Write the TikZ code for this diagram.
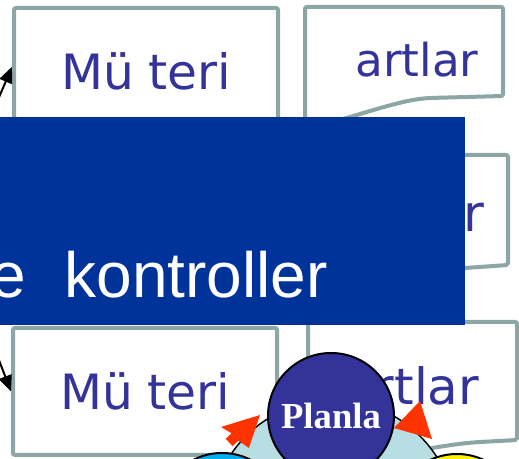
\documentclass[tikz,border=0pt]{standalone}
\usepackage{fontspec}
\setmainfont{Liberation Sans}
\newfontfamily\boxfont{DejaVu Sans}
\newfontfamily\planfont{Liberation Serif}
\usetikzlibrary{arrows.meta}
\definecolor{boxgray}{RGB}{140,166,166}
\definecolor{textblue}{RGB}{51,51,153}
\definecolor{bannerblue}{RGB}{0,51,153}
\definecolor{ringblue}{RGB}{183,222,226}
\definecolor{headred}{RGB}{255,51,0}
\tikzset{
  mbox/.style={draw=boxgray, line width=3pt, fill=white, rounded corners=1.5pt,
    minimum width=198pt, minimum height=95.25pt, inner sep=0pt, text=textblue,
    font=\boxfont\fontsize{36.5}{40}\selectfont},
  sheet/.style={draw=boxgray, line width=3pt, fill=white, rounded corners=1.5pt},
  sheettext/.style={inner sep=0pt, anchor=base west, text=textblue,
    font=\boxfont\fontsize{#1}{#1}\selectfont},
  inarrow/.style={draw, line width=1.5pt, -{Triangle[length=12pt,width=10pt]}},
  disc/.style={circle, draw=black, line width=1.5pt, inner sep=0pt, minimum size=94.5pt},
  cyclehead/.style={fill=headred}
}
\begin{document}
\begin{tikzpicture}[x=0.75pt, y=-0.75pt]
\useasboundingbox (0,0) rectangle (519,459);

% customer boxes
\node[mbox] (mustTop) at (146,71.5) {Mü\hspace{0.3em}teri};
\node[mbox] (mustBot) at (145,391.5) {Mü\hspace{0.3em}teri};
\coordinate (inTop) at (-3,102);
\coordinate (inBot) at (-3,355);
\draw[inarrow] (inTop) -- (mustTop.178);
\draw[inarrow] (inBot) -- (mustBot.west);

% sheets
\draw[sheet] (305,130) -- (305,7) -- (503,7) -- (503,96) -- (430,98)
  .. controls (400,100) and (370,112) .. (305,130);
\node[sheettext=34] (artTop) at (355,77) {artlar};
\draw[sheet] (308,290) -- (308,155) -- (508,155) -- (508,265) -- (465,268)
  .. controls (420,272) and (370,282) .. (308,290);
\node[sheettext=38] (artMid) at (463,232) {r};
\draw[sheet] (308,470) -- (308,322) -- (517,322) -- (517,440) -- (480,442)
  .. controls (450,444) and (420,450) .. (308,470);
\node[sheettext=37.5] (artBot) at (343,405) {artlar};

% title banner
\fill[bannerblue] (0,117) rectangle (465,325);
\node[anchor=base east, inner sep=0pt, text=white, font=\fontsize{48}{50}\selectfont]
  (title) at (328,298) {e\hspace{0.6em}kontroller};

% cycle
\node[disc, fill=ringblue, line width=1.1pt, minimum size=184.5pt] (ring) at (333,523) {};
\fill[cyclehead] (221,427) -- (260,415) -- (249,448) -- (238.4,440.7) -- (232.5,446.1)
  -- (225.7,438.7) -- (231.6,433.3) -- cycle;
\fill[cyclehead] (394,428) -- (420,401) -- (432,439) -- cycle;
\node[disc, fill=textblue, text=white, font=\planfont\bfseries\fontsize{27.5}{28}\selectfont]
  (planla) at (331,416) {Planla};
\node[disc, fill=cyan] (uygula) at (222,516) {};
\node[disc, fill=yellow] (kontrol) at (457,517) {};
\end{tikzpicture}
\end{document}
